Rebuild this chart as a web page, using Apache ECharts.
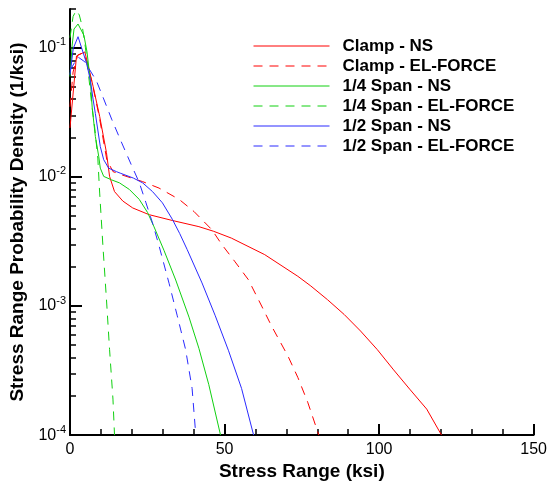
<!DOCTYPE html>
<html>
<head>
<meta charset="utf-8">
<script src="https://cdn.jsdelivr.net/npm/echarts@6/dist/echarts.min.js"></script>
<style>
  html, body { margin: 0; padding: 0; background: #fff; }
  #chart { width: 550px; height: 486px; }
</style>
</head>
<body>
<div id="chart"></div>
<script>
// series names (legend order)
const seriesNames = [
  'Clamp - NS',
  'Clamp - EL-FORCE',
  '1/4 Span - NS',
  '1/4 Span - EL-FORCE',
  '1/2 Span - NS',
  '1/2 Span - EL-FORCE'
]

// [stress range (ksi), probability density (1/ksi)]
const clampNS = [
  [0, 0.024], [2.1, 0.0865], [4.8, 0.093], [7.5, 0.05], [9.6, 0.0294], [11.8, 0.0154],
  [12.8, 0.0101], [14.4, 0.0077], [17.1, 0.0065], [20.3, 0.00575], [25.6, 0.0051],
  [33.1, 0.0046], [41.7, 0.00412], [46.5, 0.00379], [52.2, 0.00336], [63, 0.0025],
  [73.7, 0.0017], [77.9, 0.00143], [83.3, 0.00112], [88.7, 0.00086], [94, 0.00064],
  [99.4, 0.00046], [104.7, 0.00032], [109.9, 0.000227], [115.4, 0.000159], [120.2, 0.0001]
]
const clampEL = [
  [0, 0.035], [1, 0.065], [2.5, 0.088], [4.5, 0.092], [7, 0.056], [9.5, 0.029],
  [11.9, 0.0136], [13.9, 0.011], [16.6, 0.0104], [23.5, 0.0092], [28.8, 0.0082],
  [35.3, 0.0067], [40.1, 0.0054], [45.9, 0.0039], [49.1, 0.003], [53.4, 0.0022],
  [57.7, 0.0016], [62, 0.001], [65.2, 0.0007], [70.5, 0.00041], [73.7, 0.00028],
  [76.9, 0.00018], [80.5, 0.0001]
]
const quarterNS = [
  [0, 0.06], [0.7, 0.105], [1.3, 0.14], [2.6, 0.153], [4.5, 0.125], [5.5, 0.093],
  [6.6, 0.055], [7.2, 0.034], [8.2, 0.0206], [9.3, 0.0144], [9.8, 0.0117], [10.9, 0.0101],
  [13.4, 0.0095], [16, 0.009], [19.2, 0.008], [22.4, 0.0067], [25.1, 0.0053],
  [27.2, 0.0041], [30.4, 0.0027], [34.2, 0.00159], [38.5, 0.00082], [41.7, 0.00047],
  [44.9, 0.000246], [48.7, 0.0001]
]
const quarterEL = [
  [0, 0.12], [1, 0.175], [2, 0.195], [3, 0.18], [4, 0.145], [5, 0.1], [6, 0.062],
  [7, 0.037], [8, 0.024], [9, 0.014], [9.6, 0.0075], [10.7, 0.0028], [11.8, 0.00112],
  [12.8, 0.00046], [13.9, 0.00019], [14.4, 0.0001]
]
const halfNS = [
  [0, 0.062], [1.06, 0.099], [2.6, 0.122], [5.35, 0.076], [6.6, 0.056], [7.5, 0.0395],
  [8.2, 0.031], [9.8, 0.0172], [10.9, 0.0136], [12.5, 0.0117], [15, 0.011], [16.25, 0.0107],
  [20.5, 0.0098], [23.5, 0.009], [26.7, 0.0077], [29.9, 0.0063], [33.1, 0.0047],
  [35.5, 0.00364], [37.9, 0.00274], [42.7, 0.00151], [47, 0.00084], [51.3, 0.00045],
  [55.5, 0.00023], [59.4, 0.0001]
]
const halfEL = [
  [0, 0.067], [2.56, 0.085], [4.8, 0.078], [8.56, 0.0554], [10.9, 0.0402], [13.56, 0.0277],
  [16.76, 0.0183], [19.78, 0.0125], [22.44, 0.009], [24.58, 0.0063], [26.7, 0.0044],
  [28.85, 0.0029], [32.05, 0.0015], [34.7, 0.00084], [37.4, 0.00046], [39.5, 0.00023],
  [40.7, 0.0001]
]

// axis ticks
const majorY = [1e-4, 1e-3, 1e-2, 1e-1]
const minorMult = [2, 3, 4, 5, 6, 7, 8, 9]
const minorY = []
majorY.forEach(d => {
  minorMult.forEach(m => {
    if (d * m <= 0.2 + 1e-9) minorY.push(d * m)
  })
})

const font = '"Liberation Sans", Arial, Helvetica, sans-serif'
const red = '#ff0000'
const green = '#10d010'
const blue = '#2a2aff'
const dash = [9, 7]

function makeSeries(name, data, color, dashed) {
  return {
    name: name,
    type: 'line',
    data: data,
    yAxisIndex: 0,
    symbol: 'none',
    smooth: false,
    clip: true,
    lineStyle: { color: color, width: 1, type: dashed ? dash : 'solid' },
    itemStyle: { color: color }
  }
}

const chart = echarts.init(document.getElementById('chart'))
chart.setOption({
  animation: false,
  backgroundColor: '#fff',
  grid: { left: 70, right: 11, top: 9, bottom: 50, containLabel: false },
  legend: {
    orient: 'vertical',
    left: 253,
    top: 36,
    padding: 0,
    itemWidth: 76,
    itemHeight: 20,
    itemGap: 0,
    selectedMode: false,
    data: seriesNames,
    itemStyle: { opacity: 0 },
    lineStyle: { width: 1 },
    textStyle: {
      fontFamily: font,
      fontSize: 17,
      fontWeight: 'bold',
      color: '#000',
      lineHeight: 20,
      padding: [0, 0, 0, 8]
    }
  },
  xAxis: {
    type: 'value',
    min: 0,
    max: 150,
    interval: 50,
    name: 'Stress Range (ksi)',
    nameLocation: 'middle',
    nameGap: 24,
    nameTextStyle: { fontFamily: font, fontSize: 19, fontWeight: 'bold', color: '#000' },
    axisLine: { onZero: false, lineStyle: { color: '#000', width: 2 } },
    axisTick: { inside: true, length: 11, lineStyle: { color: '#000', width: 2 } },
    minorTick: { show: true, splitNumber: 5, length: 6, lineStyle: { color: '#000', width: 1.5 } },
    axisLabel: { fontFamily: font, fontSize: 16, color: '#000', margin: 6 },
    splitLine: { show: false },
    minorSplitLine: { show: false }
  },
  yAxis: [
    {
      type: 'log',
      logBase: 10,
      min: 1e-4,
      max: 0.2,
      position: 'left',
      name: 'Stress Range Probability Density (1/ksi)',
      nameLocation: 'middle',
      nameGap: 38,
      nameTextStyle: { fontFamily: font, fontSize: 19, fontWeight: 'bold', color: '#000' },
      axisLine: { show: true, onZero: false, lineStyle: { color: '#000', width: 2 } },
      axisTick: {
        show: true,
        inside: true,
        length: 12,
        customValues: majorY,
        lineStyle: { color: '#000', width: 2 }
      },
      axisLabel: {
        customValues: majorY,
        margin: 4,
        formatter: function (value) {
          const e = Math.round(Math.log10(value))
          if (Math.abs(value - Math.pow(10, e)) / value > 1e-6) return ''
          return '{b|10}{s|' + e + '}'
        },
        rich: {
          b: { fontFamily: font, fontSize: 16, color: '#000' },
          s: { fontFamily: font, fontSize: 11, color: '#000', padding: [0, 0, 11, 0] }
        }
      },
      splitLine: { show: false }
    },
    {
      type: 'log',
      logBase: 10,
      min: 1e-4,
      max: 0.2,
      position: 'left',
      offset: 0,
      axisLine: { show: false },
      axisTick: {
        show: true,
        inside: true,
        length: 6,
        customValues: minorY,
        lineStyle: { color: '#000', width: 1.5 }
      },
      axisLabel: { show: false },
      splitLine: { show: false }
    }
  ],
  series: [
    makeSeries(seriesNames[0], clampNS, red, false),
    makeSeries(seriesNames[1], clampEL, red, true),
    makeSeries(seriesNames[2], quarterNS, green, false),
    makeSeries(seriesNames[3], quarterEL, green, true),
    makeSeries(seriesNames[4], halfNS, blue, false),
    makeSeries(seriesNames[5], halfEL, blue, true)
  ]
})
</script>
</body>
</html>
